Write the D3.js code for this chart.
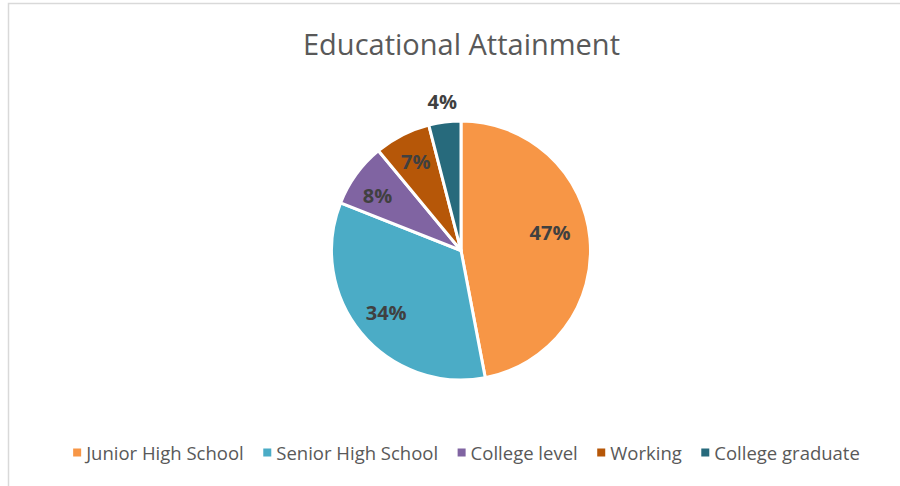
<!DOCTYPE html>
<html>
<head>
<meta charset="utf-8">
<script src="https://cdn.jsdelivr.net/npm/d3@7"></script>
<style>
  html, body { margin: 0; padding: 0; background: #fff; }
  svg { display: block; font-family: "Open Sans", "Noto Sans", sans-serif; }
</style>
</head>
<body>
<svg id="chart" width="900" height="486"></svg>
<script>
// Educational attainment shares (percent)
const categories = ["Junior High School", "Senior High School", "College level", "Working", "College graduate"];
const values = [47, 34, 8, 7, 4];
const colors = ["#F79646", "#4BACC6", "#8064A2", "#B65708", "#276A7C"];
const titleText = "Educational Attainment";

const width = 900, height = 486;
const svg = d3.select("#chart");

// Chart area background and frame
svg.append("rect").attr("width", width).attr("height", height).attr("fill", "#fff");
svg.append("path")
  .attr("d", "M8.5,486 L8.5,3.5 L900,3.5")
  .attr("fill", "none")
  .attr("stroke", "#d9d9d9")
  .attr("stroke-width", 1.5);

// Title
svg.append("text")
  .attr("x", 461.5)
  .attr("y", 55)
  .attr("text-anchor", "middle")
  .attr("font-size", 29)
  .attr("fill", "#595959")
  .text(titleText);

// Pie
const cx = 461, cy = 250.5, radius = 129.5;
const data = categories.map((c, i) => ({ name: c, value: values[i], color: colors[i] }));
const pie = d3.pie().value(d => d.value).sort(null);
const arcs = pie(data);
const arc = d3.arc().innerRadius(0).outerRadius(radius);

const g = svg.append("g").attr("transform", `translate(${cx},${cy})`);
g.selectAll("path.slice")
  .data(arcs)
  .enter().append("path")
  .attr("class", "slice")
  .attr("d", arc)
  .attr("fill", d => d.data.color)
  .attr("stroke", "#fff")
  .attr("stroke-width", 3)
  .attr("stroke-linejoin", "round");

// Data labels: inside for larger slices, outside for the smallest one
function labelPos(d, i) {
  const mid = (d.startAngle + d.endAngle) / 2;
  let r = radius * 0.77;
  let a = mid;
  if (d.data.value < 5) r = radius * 1.155;
  if (i === 0) { r = radius * 0.70; a = mid - 0.1; }
  if (i === 1) { r = radius * 0.75; }
  if (i === 2) { a = mid - 0.05; }
  return [Math.sin(a) * r, -Math.cos(a) * r];
}
g.selectAll("text.label")
  .data(arcs)
  .enter().append("text")
  .attr("class", "label")
  .attr("transform", (d, i) => `translate(${labelPos(d, i)})`)
  .attr("text-anchor", "middle")
  .attr("dy", "0.36em")
  .attr("font-size", 20)
  .attr("font-weight", 700)
  .attr("fill", "#404040")
  .text(d => d.data.value + "%");

// Legend
const legend = svg.append("g");
const items = legend.selectAll("g.item")
  .data(data)
  .enter().append("g")
  .attr("class", "item");
items.append("rect")
  .attr("width", 8).attr("height", 8)
  .attr("y", -11)
  .attr("fill", d => d.color);
items.append("text")
  .attr("x", 13)
  .attr("font-size", 18.5)
  .attr("fill", "#595959")
  .text(d => d.name);

let xPos = 0;
const gap = 19.5;
items.each(function() {
  const it = d3.select(this);
  it.attr("transform", `translate(${xPos},0)`);
  const w = 13 + it.select("text").node().getComputedTextLength();
  xPos += w + gap;
});
const totalW = xPos - gap;
legend.attr("transform", `translate(${466.5 - totalW / 2},459.5)`);
</script>
</body>
</html>
